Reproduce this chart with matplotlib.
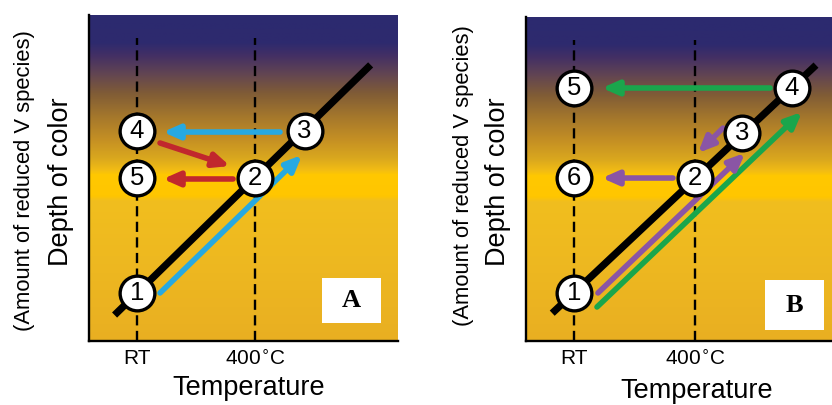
import matplotlib.pyplot as plt
import numpy as np
from matplotlib.colors import to_rgb
from matplotlib.patches import FancyArrowPatch, Rectangle

plt.rcParams['font.family'] = ['Liberation Sans', 'DejaVu Sans']

# x: RT = 0, 400 C = 1 ; y: depth of colour (arbitrary units)
tick_pos = [0, 1]
tick_labels = ['RT', '400$^{\\circ}$C']

# panel A
line_a_x = [-0.19, 1.98]
line_a_y = [0.22, 2.34]
nodes_a = ['1', '2', '3', '4', '5']
nodes_a_x = [0, 1, 1.42, 0, 0]
nodes_a_y = [0.41, 1.38, 1.78, 1.78, 1.38]
arrows_a = [
    # (x0, y0, x1, y1, colour)
    (0.195, 0.407, 1.398, 1.576, '#27a9e1'),
    (1.212, 1.771, 0.22, 1.771, '#27a9e1'),
    (0.195, 1.678, 0.788, 1.483, '#c1272d'),
    (0.814, 1.373, 0.22, 1.373, '#c1272d'),
]

# panel B
line_b_x = [-0.18, 2.0]
line_b_y = [0.23, 2.28]
nodes_b = ['1', '2', '3', '4', '5', '6']
nodes_b_x = [0, 1, 1.39, 1.80, 0, 0]
nodes_b_y = [0.40, 1.35, 1.72, 2.09, 2.09, 1.35]
arrows_b = [
    (0.19, 0.281, 1.884, 1.893, '#1aa64c'),
    (1.62, 2.091, 0.231, 2.091, '#1aa64c'),
    (0.198, 0.397, 1.413, 1.554, '#8a55a5'),
    (1.231, 1.76, 1.025, 1.554, '#8a55a5'),
    (0.818, 1.347, 0.231, 1.347, '#8a55a5'),
]

# background colour stops (fraction from top, colour)
bg_stops = [
    (0.000, '#2c2a70'), (0.085, '#2e2a6e'), (0.125, '#443064'),
    (0.180, '#624552'), (0.240, '#805c36'), (0.310, '#a4772c'),
    (0.380, '#c48f24'), (0.440, '#daa81e'), (0.475, '#f2bc14'),
    (0.490, '#ffc800'), (0.555, '#ffc600'), (0.570, '#f1be1e'),
    (0.740, '#eeb920'), (1.000, '#e9af22'),
]


def gradient():
    f = np.linspace(0, 1, 400)
    pos = [s[0] for s in bg_stops]
    rgb = np.array([to_rgb(s[1]) for s in bg_stops])
    img = np.stack([np.interp(f, pos, rgb[:, k]) for k in range(3)], axis=1)
    return img[:, None, :]


def panel(ax, xlim, ylim, lx, ly, names, nx, ny, arrows, letter, box):
    ax.imshow(gradient(), extent=[0, 1, 0, 1], transform=ax.transAxes,
              aspect='auto', zorder=0)
    ax.set_xlim(xlim)
    ax.set_ylim(ylim)
    for x in tick_pos:
        ax.axvline(x, ymax=0.93, color='black', lw=1.7,
                   linestyle=(0, (4.3, 2.3)), zorder=1)
    ax.plot(lx, ly, color='black', lw=5.2, solid_capstyle='butt', zorder=2)
    for x0, y0, x1, y1, c in arrows:
        ax.add_patch(FancyArrowPatch((x0, y0), (x1, y1),
                                     arrowstyle='-|>,head_length=0.95,head_width=0.42',
                                     mutation_scale=10, color=c, lw=4.0,
                                     shrinkA=0, shrinkB=0, zorder=3))
    ax.plot(nx, ny, 'o', ms=25, mfc='white', mec='black', mew=2.4, zorder=4)
    for s, x, y in zip(names, nx, ny):
        ax.text(x, y, s, ha='center', va='center', fontsize=18.5, zorder=5)
    ax.add_patch(Rectangle((box[0], box[1]), box[2], box[3], transform=ax.transAxes,
                           facecolor='white', edgecolor='none', zorder=5))
    ax.text(box[0] + box[2] / 2, box[1] + box[3] / 2, letter, transform=ax.transAxes,
            ha='center', va='center', fontsize=19, fontweight='bold',
            family='Liberation Serif', zorder=6)
    for side in ['top', 'right']:
        ax.spines[side].set_visible(False)
    for side in ['left', 'bottom']:
        ax.spines[side].set_linewidth(1.7)
        ax.spines[side].set_zorder(7)
    ax.set_yticks([])
    ax.set_xticks(tick_pos)
    ax.set_xticklabels(tick_labels, fontsize=15)
    ax.tick_params(axis='x', direction='in', length=3, width=1.4, pad=6)


W, H = 832, 405
fig = plt.figure(figsize=(W / 100, H / 100), dpi=100)

ax_a = fig.add_axes([89 / W, (H - 341) / H, 309 / W, 326 / H])
panel(ax_a, (-48 / 118, 261 / 118), (0, 326 / 118), line_a_x, line_a_y,
      nodes_a, nodes_a_x, nodes_a_y, arrows_a, 'A', (0.754, 0.055, 0.191, 0.138))

ax_b = fig.add_axes([526 / W, (H - 341) / H, 317 / W, 324 / H])
panel(ax_b, (-48 / 121, 269 / 121), (0, 324 / 121), line_b_x, line_b_y,
      nodes_b, nodes_b_x, nodes_b_y, arrows_b, 'B', (0.754, 0.034, 0.186, 0.154))

# axis titles
fig.text(249 / W, 1 - 388 / H, 'Temperature', ha='center', va='center', fontsize=19.5)
fig.text(697 / W, 1 - 391 / H, 'Temperature', ha='center', va='center', fontsize=19.5)
fig.text(61 / W, 1 - 182 / H, 'Depth of color', ha='center', va='center',
         rotation=90, fontsize=19.5)
fig.text(25 / W, 1 - 181 / H, '(Amount of reduced V species)', ha='center', va='center',
         rotation=90, fontsize=15.8)
fig.text(498 / W, 1 - 182 / H, 'Depth of color', ha='center', va='center',
         rotation=90, fontsize=19.5)
fig.text(463 / W, 1 - 176 / H, '(Amount of reduced V species)', ha='center', va='center',
         rotation=90, fontsize=15.8)

fig.savefig('out.png', dpi=100)
